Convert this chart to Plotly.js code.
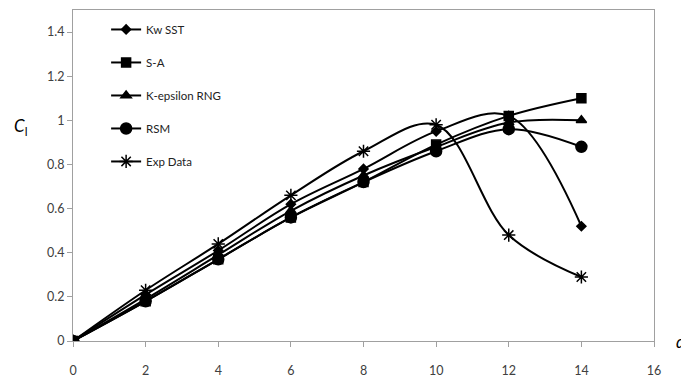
<!DOCTYPE html>
<html><head><meta charset="utf-8">
<script src="https://cdn.plot.ly/plotly-3.0.1.min.js"></script>
<style>html,body{margin:0;padding:0;background:#fff;}#chart{width:681px;height:380px;}</style>
</head><body><div id="chart"></div>
<script>
const alpha = [0, 2, 4, 6, 8, 10, 12, 14];
const kwSST = [0, 0.21, 0.41, 0.62, 0.78, 0.95, 1.02, 0.52];
const sA = [0, 0.18, 0.37, 0.56, 0.72, 0.89, 1.02, 1.10];
const kEpsRNG = [0, 0.19, 0.39, 0.59, 0.75, 0.88, 0.99, 1.00];
const rsm = [0, 0.18, 0.37, 0.56, 0.72, 0.86, 0.96, 0.88];
const expData = [0, 0.23, 0.44, 0.66, 0.86, 0.98, 0.48, 0.29];
const names = ['Kw SST', 'S-A', 'K-epsilon RNG', 'RSM', 'Exp Data'];
const xTicks = [0, 2, 4, 6, 8, 10, 12, 14, 16];
const yTicks = [0, 0.2, 0.4, 0.6, 0.8, 1, 1.2, 1.4];

const series = [kwSST, sA, kEpsRNG, rsm, expData];
const symbols = ['diamond', 'square', 'triangle-up', 'circle', 'asterisk-open'];
const sizes = [7, 9, 9, 11, 11];
const traces = series.map((ys, i) => ({
  x: alpha, y: ys, name: names[i], type: 'scatter', mode: 'lines+markers',
  legendgroup: 'g' + i,
  line: {color: '#000', width: 2, shape: 'spline', smoothing: 1},
  marker: {symbol: symbols[i], size: sizes[i], color: '#000', line: {color: '#000', width: 1.5}}
}));

const axisCommon = {
  showgrid: false, zeroline: false, showline: true, linecolor: '#a0a0a0', linewidth: 1,
  ticks: 'outside', ticklen: 5, tickcolor: '#a0a0a0', mirror: true,
  tickfont: {family: 'Lato, sans-serif', size: 12.5, color: '#404040'}
};
const layout = {
  width: 681, height: 380,
  margin: {l: 73, r: 27, t: 10, b: 39},
  paper_bgcolor: '#fff', plot_bgcolor: '#fff',
  showlegend: true,
  legend: {x: 0.057, y: 0.985, xanchor: 'left', yanchor: 'top', bgcolor: 'rgba(0,0,0,0)',
    font: {family: 'Lato, sans-serif', size: 11.5, color: '#222'}, tracegroupgap: 14},
  xaxis: Object.assign({}, axisCommon, {range: [0, 16], tickvals: xTicks, ticktext: xTicks.map(String), ticklabelstandoff: 13}),
  yaxis: Object.assign({}, axisCommon, {range: [0, 1.5], tickvals: yTicks, ticktext: yTicks.map(String)}),
  annotations: [
    {xref: 'paper', yref: 'paper', x: -0.091, y: 0.647, xanchor: 'center', yanchor: 'middle', showarrow: false,
     text: '<i>C</i><sub>l</sub>', font: {family: 'Lato, sans-serif', size: 17, color: '#000'}},
    {xref: 'paper', yref: 'paper', x: 1.035, y: 0.0, xanchor: 'left', yanchor: 'middle', showarrow: false,
     text: '<i>α</i>', font: {family: 'Lato, sans-serif', size: 17, color: '#000'}}
  ]
};
Plotly.newPlot('chart', traces, layout, {displayModeBar: false, staticPlot: true});
</script></body></html>
